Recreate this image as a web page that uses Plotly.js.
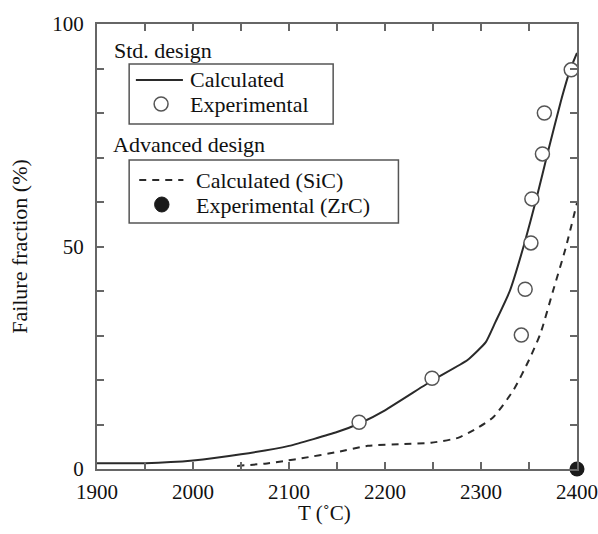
<!DOCTYPE html>
<html>
<head>
<meta charset="utf-8">
<script src="https://cdn.plot.ly/plotly-3.0.1.min.js"></script>
<style>html,body{margin:0;padding:0;background:#fff}#chart{width:598px;height:534px}</style>
</head>
<body>
<div id="chart"></div>
<script>
// Std. design – calculated curve
var stdCalcT = [1900, 1950, 2000, 2050, 2100, 2150, 2175, 2200, 2250, 2286, 2305, 2315, 2330, 2345, 2358, 2370, 2383, 2393, 2400];
var stdCalcF = [1.3, 1.3, 1.9, 3.3, 5.2, 8.3, 10.4, 13.2, 20.0, 24.5, 28.5, 33.0, 40.0, 50.5, 61.0, 71.5, 82.5, 89.8, 93.5];
// Std. design – experimental points
var stdExpT = [2173, 2249, 2342, 2346, 2352, 2353, 2364, 2366, 2394];
var stdExpF = [10.5, 20.4, 30.1, 40.4, 50.8, 60.7, 70.8, 80.0, 89.7];
// Advanced design – calculated (SiC)
var advCalcT = [2046, 2075, 2098, 2113, 2150, 2182, 2220, 2248, 2276, 2293, 2313, 2334, 2350, 2362, 2375, 2388, 2400];
var advCalcF = [0.7, 1.2, 1.9, 2.4, 3.8, 5.2, 5.6, 5.9, 7.0, 8.8, 11.7, 17.8, 24.5, 30.5, 40.0, 49.5, 59.8];
// Advanced design – experimental (ZrC)
var advExpT = [2400];
var advExpF = [0];

var labels = {
  std: "Std. design", adv: "Advanced design",
  calc: "Calculated", exp: "Experimental",
  calcSiC: "Calculated (SiC)", expZrC: "Experimental (ZrC)",
  xTitle: "T (˚C)", yTitle: "Failure fraction (%)"
};

var FONT = "Liberation Serif, Times New Roman, serif";
var INK = "#2a2a2a";
var TXT = "#111";

var traces = [
  {x: stdCalcT, y: stdCalcF, mode: "lines", line: {color: INK, width: 2, shape: "spline", smoothing: 0.45}, showlegend: false},
  {x: advCalcT, y: advCalcF, mode: "lines", line: {color: INK, width: 2, dash: "7px,6px", shape: "spline", smoothing: 0.6}, showlegend: false},
  {x: stdExpT, y: stdExpF, mode: "markers", marker: {symbol: "circle", size: 14, color: "#fff", line: {color: "#555", width: 1.5}}, showlegend: false},
  {x: advExpT, y: advExpF, mode: "markers", marker: {symbol: "circle", size: 15, color: "#1a1a1a"}, cliponaxis: false, showlegend: false}
];

var axisCommon = {
  showline: true, linecolor: "#666", linewidth: 2, mirror: "ticks",
  ticks: "inside", ticklen: 7, tickwidth: 2, tickcolor: "#666",
  showgrid: false, zeroline: false,
  tickfont: {family: FONT, size: 21, color: TXT}
};

var layout = {
  width: 598, height: 534,
  margin: {l: 97, r: 21, t: 24, b: 65},
  paper_bgcolor: "#fff", plot_bgcolor: "#fff",
  showlegend: false,
  font: {family: FONT, color: TXT},
  xaxis: Object.assign({}, axisCommon, {
    range: [1900, 2400], dtick: 100, tick0: 1900, ticklabelstandoff: 3,
    minor: {dtick: 50, ticks: "inside", ticklen: 7, tickwidth: 2, tickcolor: "#666", showgrid: false}
  }),
  yaxis: Object.assign({}, axisCommon, {
    range: [0, 100], dtick: 50, tick0: 0, ticklabelstandoff: 7,
    minor: {dtick: 10, ticks: "inside", ticklen: 7, tickwidth: 2, tickcolor: "#666", showgrid: false},
    title: {text: labels.yTitle, font: {family: FONT, size: 22, color: TXT}, standoff: 19}
  }),
  shapes: [
    // legend box 1
    {type: "rect", xref: "paper", yref: "paper", x0: 0.067, x1: 0.492, y0: 1 - 100/445, y1: 1 - 40/445, line: {color: "#555", width: 1.5}, fillcolor: "rgba(0,0,0,0)"},
    {type: "line", xref: "paper", yref: "paper", x0: 0.081, x1: 0.179, y0: 1 - 56/445, y1: 1 - 56/445, line: {color: INK, width: 2}},
    {type: "circle", xref: "paper", yref: "paper", x0: 0.119, x1: 0.148, y0: 1 - 87/445, y1: 1 - 73/445, line: {color: "#555", width: 1.5}, fillcolor: "#fff"},
    // legend box 2
    {type: "rect", xref: "paper", yref: "paper", x0: 0.067, x1: 0.628, y0: 1 - 199/445, y1: 1 - 136/445, line: {color: "#555", width: 1.5}, fillcolor: "rgba(0,0,0,0)"},
    {type: "line", xref: "paper", yref: "paper", x0: 0.088, x1: 0.180, y0: 1 - 156/445, y1: 1 - 156/445, line: {color: INK, width: 2, dash: "7px,6px"}},
    {type: "circle", xref: "paper", yref: "paper", x0: 0.120, x1: 0.150, y0: 1 - 188/445, y1: 1 - 173/445, line: {color: "#1a1a1a", width: 1}, fillcolor: "#1a1a1a"}
  ],
  annotations: [
    {text: labels.xTitle, xref: "paper", yref: "paper", x: 0.473, y: -44/445, xanchor: "center", yanchor: "middle", showarrow: false, font: {family: FONT, size: 21, color: TXT}},
    {text: labels.std, xref: "paper", yref: "paper", x: 0.031, y: 1 - 26/445, xanchor: "left", yanchor: "middle", showarrow: false, font: {family: FONT, size: 22, color: TXT}},
    {text: labels.calc, xref: "paper", yref: "paper", x: 0.189, y: 1 - 56/445, xanchor: "left", yanchor: "middle", showarrow: false, font: {family: FONT, size: 22, color: TXT}},
    {text: labels.exp, xref: "paper", yref: "paper", x: 0.189, y: 1 - 80/445, xanchor: "left", yanchor: "middle", showarrow: false, font: {family: FONT, size: 22, color: TXT}},
    {text: labels.adv, xref: "paper", yref: "paper", x: 0.029, y: 1 - 120/445, xanchor: "left", yanchor: "middle", showarrow: false, font: {family: FONT, size: 22, color: TXT}},
    {text: labels.calcSiC, xref: "paper", yref: "paper", x: 0.202, y: 1 - 156/445, xanchor: "left", yanchor: "middle", showarrow: false, font: {family: FONT, size: 22, color: TXT}},
    {text: labels.expZrC, xref: "paper", yref: "paper", x: 0.202, y: 1 - 181/445, xanchor: "left", yanchor: "middle", showarrow: false, font: {family: FONT, size: 22, color: TXT}}
  ]
};

Plotly.newPlot("chart", traces, layout, {staticPlot: true, displayModeBar: false});
</script>
</body>
</html>
